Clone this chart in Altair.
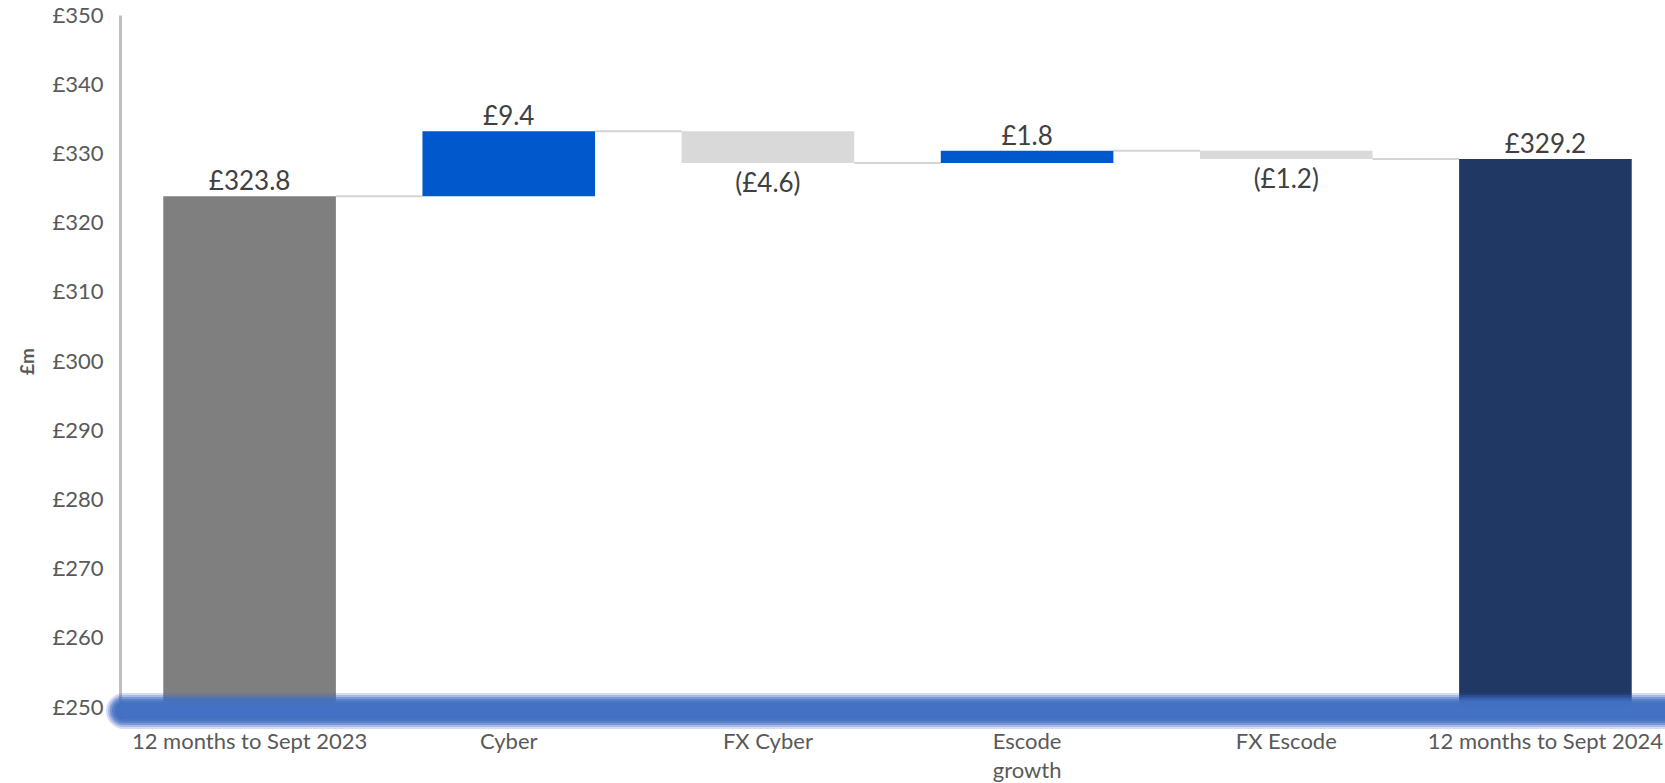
import altair as alt
import pandas as pd

# ---- data ----
categories = ["12 months to Sept 2023", "Cyber", "FX Cyber", "Escode growth", "FX Escode", "12 months to Sept 2024"]
values = [323.8, 9.4, -4.6, 1.8, -1.2, 329.2]
kinds = ["start", "increase", "decrease", "increase", "decrease", "total"]
y_ticks = [250, 260, 270, 280, 290, 300, 310, 320, 330, 340, 350]

kind_domain = ["start", "increase", "decrease", "total"]
kind_colors = ["#7F7F7F", "#0058CC", "#D9D9D9", "#203864"]

FONT = "Lato"
BASE = 250

# ---- build waterfall table ----
rows = []
running = 0.0
for cat, val, kind in zip(categories, values, kinds):
    if kind in ("start", "total"):
        lo, hi = BASE, val
        running = val
        label = f"£{val:.1f}"
    else:
        prev = running
        running = round(prev + val, 1)
        lo, hi = min(prev, running), max(prev, running)
        label = f"£{val:.1f}" if val >= 0 else f"(£{abs(val):.1f})"
    rows.append({"cat": cat, "kind": kind, "lo": lo, "hi": hi, "end": running, "label": label,
                 "pos": "below" if kind == "decrease" else "above",
                 "anchor": "total" if kind in ("start", "total") else "float"})
df = pd.DataFrame(rows)

conn = pd.DataFrame({
    "from": categories[:-1],
    "to": categories[1:],
    "level": [r["end"] for r in rows[:-1]],
})

W, H = 1545, 692
xscale = alt.Scale(domain=categories, range=[0, 1555], paddingInner=0.334, paddingOuter=0.167)
yscale = alt.Scale(domain=[BASE, 350], nice=False, zero=False)
cscale = alt.Scale(domain=kind_domain, range=kind_colors)

x_axis = alt.Axis(
    title=None, domain=False, ticks=False, labelAngle=0, labelLimit=0, labelAlign="center",
    labelFont=FONT, labelFontSize=22, labelColor="#595959", labelPadding=24,
    labelLineHeight=29, labelBaseline="top",
    labelExpr="datum.value == 'Escode growth' ? ['Escode', 'growth'] : datum.value",
)
y_axis = alt.Axis(
    title="£m", values=y_ticks, grid=False, ticks=False,
    domainColor="#BFBFBF", domainWidth=3,
    labelExpr="'£' + datum.value", labelFont=FONT, labelFontSize=22, labelColor="#595959",
    labelPadding=17, titleFont=FONT, titleFontSize=19, titleFontWeight="bold",
    titleColor="#595959", titlePadding=14,
)

base = alt.Chart(df)

# totals reach down into the glowing baseline
bars_total = base.transform_filter(alt.datum.anchor == "total").mark_bar(y2Offset=6).encode(
    x=alt.X("cat:N", scale=xscale, axis=x_axis, sort=categories),
    y=alt.Y("hi:Q", scale=yscale, axis=y_axis),
    y2="lo:Q",
    color=alt.Color("kind:N", scale=cscale, legend=None),
)
bars_float = base.transform_filter(alt.datum.anchor == "float").mark_bar().encode(
    x=alt.X("cat:N", scale=xscale, sort=categories),
    y=alt.Y("hi:Q", scale=yscale),
    y2="lo:Q",
    color=alt.Color("kind:N", scale=cscale, legend=None),
)

connectors = alt.Chart(conn).mark_rule(color="#D4D4D4", strokeWidth=2).encode(
    x=alt.X("from:N", scale=xscale, sort=categories, bandPosition=1),
    x2=alt.X2("to:N", bandPosition=0),
    y=alt.Y("level:Q", scale=yscale),
)

labels_above = base.transform_filter(alt.datum.pos == "above").mark_text(
    font=FONT, fontSize=26, color="#404040", baseline="alphabetic", dy=-6
).encode(
    x=alt.X("cat:N", scale=xscale, sort=categories),
    y=alt.Y("hi:Q", scale=yscale),
    text="label:N",
)

labels_below = base.transform_filter(alt.datum.pos == "below").mark_text(
    font=FONT, fontSize=26, color="#404040", baseline="top", dy=8
).encode(
    x=alt.X("cat:N", scale=xscale, sort=categories),
    y=alt.Y("lo:Q", scale=yscale),
    text="label:N",
)

# soft glowing blue baseline (decoration along the £250 level)
glow_layers = []
for sw, op in [(36, 0.04), (32, 0.06), (28, 0.09), (24, 0.13), (20, 0.2), (16, 0.3), (12, 0.45), (8, 0.6)]:
    glow_layers.append(
        alt.Chart(df).mark_rule(color="#4472C4", strokeWidth=sw, opacity=op, strokeCap="round", yOffset=4).encode(
            x=alt.value(4), x2=alt.value(W + 40), y=alt.datum(BASE, scale=yscale)
        )
    )

chart = alt.layer(connectors, bars_total, bars_float, *glow_layers, labels_above, labels_below).properties(
    width=W, height=H,
    autosize=alt.AutoSizeParams(type="none"),
    padding={"left": 120, "top": 15, "right": 0, "bottom": 76},
    background="white",
).configure_view(stroke=None)

chart.save("out.html", embed_options={"renderer": "svg", "actions": False})
